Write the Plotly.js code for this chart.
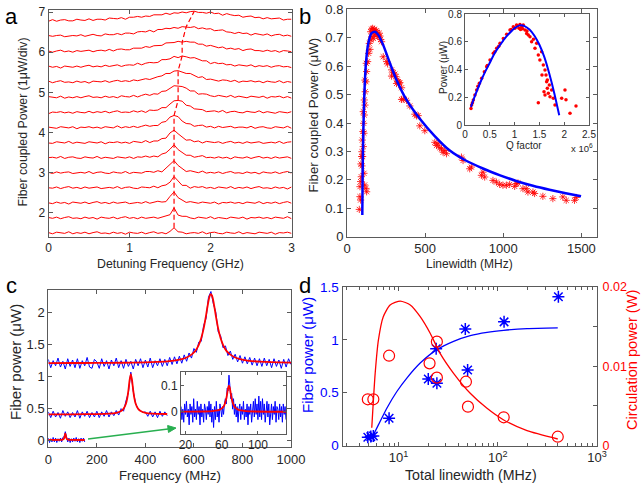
<!DOCTYPE html>
<html><head><meta charset="utf-8">
<script src="https://cdn.plot.ly/plotly-3.0.1.min.js"></script>
<style>html,body{margin:0;padding:0;background:#fff}#chart{width:642px;height:484px}</style>
</head><body><div id="chart"></div>
<script>
// ================= Panel a : spectra (power above each trace's own baseline) =================
const detuningGHz = [0,0.05,0.1,0.15,0.2,0.25,0.3,0.35,0.4,0.45,0.5,0.55,0.6,0.65,0.7,0.75,0.8,0.85,0.9,0.95,1,1.05,1.1,1.15,1.2,1.25,1.3,1.35,1.4,1.45,1.5,1.55,1.6,1.65,1.7,1.75,1.8,1.85,1.9,1.95,2,2.05,2.1,2.15,2.2,2.25,2.3,2.35,2.4,2.45,2.5,2.55,2.6,2.65,2.7,2.75,2.8,2.85,2.9,2.95,3];
const specA0 = [.01,-.02,.02,0,-.01,.03,-.02,.01,-.01,.02, -.02,.01,.03,-.01,0,-.02,.02,-.01,.01,-.03, .02,0,-.01,.02,-.02,.01,.03,-.01,.01,-.02, .04,.13,.03,.02,-.02,0,.01,-.01,.03,-.02, .01,.02,-.01,-.02,.02,0,-.01,.03,-.02,.01, 0,-.02,.02,.01,-.01,.02,-.03,.01,0,.02,-.01];
const specA1 = [.01,-.01,.02,-.02,.01,.03,-.01,0,-.02,.02, -.01,.01,-.03,.02,0,-.01,.02,-.02,.01,.03, -.01,.01,-.02,.02,-.01,.01,.02,-.01,.02,.04, .08,.25,.07,.04,.04,0,-.02,.02,0,-.01, .03,-.02,.01,0,-.02,.02,.01,-.01,.02,-.03, .01,0,.02,-.01,.01,-.02,.02,0,-.01,.03,-.02];
const specA2 = [0,-.02,.02,-.01,.01,-.03,.02,0,-.01,.02, -.02,.01,.03,-.01,.01,-.02,.02,-.01,.01,.02, -.02,0,.01,-.01,.03,-.01,.02,.04,.02,.03, .16,.27,.13,.08,.01,.03,.01,-.01,.02,.01, -.01,.02,-.03,.01,0,.02,-.01,.01,-.02,.02, 0,-.01,.03,-.02,.01,-.01,.02,-.02,.01,.03,-.01];
const specA3 = [0,-.01,.02,-.02,.01,.03,-.01,.01,-.02,.02, -.01,.01,.02,-.02,0,.01,-.01,.03,-.02,.01, .02,-.01,-.02,.02,.01,0,.04,0,.05,.07, .14,.28,.17,.06,.06,-.01,.03,.01,.03,-.01, .01,-.02,.02,0,-.01,.03,-.02,.01,-.01,.02, -.02,.01,.03,-.01,0,-.02,.02,-.01,.01,-.03,.02];
const specA4 = [.01,-.02,.02,-.01,.01,.02,-.02,0,.01,-.01, .03,-.02,.01,.02,-.01,-.02,.02,0,-.01,.03, -.02,.01,0,-.01,.03,.03,.01,.05,.02,.11, .19,.3,.18,.11,.03,.05,.02,0,.04,-.01, .01,-.01,.02,-.02,.01,.03,-.01,0,-.02,.02, -.01,.01,-.03,.02,0,-.01,.02,-.02,.01,.03,-.01];
const specA5 = [0,.01,-.01,.03,-.02,.01,.02,-.01,-.02,.02, 0,-.01,.03,-.02,.01,0,-.02,.02,.01,-.01, .02,-.02,.02,.01,.04,.01,.04,.02,.09,.12, .21,.32,.2,.13,.06,.06,.01,.03,.05,0, .01,-.01,.02,-.01,.01,-.03,.02,0,-.01,.02, -.02,.01,.03,-.01,.01,-.02,.02,-.01,.01,.02,-.02];
const specA6 = [-.01,-.02,.02,0,-.01,.03,-.02,.01,0,-.02, .02,.01,-.01,.02,-.03,.01,0,.02,-.01,.01, -.02,.03,.01,0,.05,0,.04,.04,.1,.11, .24,.31,.22,.13,.06,.07,.02,.04,-.01,.03, .01,0,.02,-.02,.01,.03,-.01,.01,-.02,.02, -.01,.01,.02,-.02,0,.01,-.01,.03,-.02,.01,.02];
const specA7 = [.01,0,-.02,.02,.01,-.01,.02,-.03,.01,0, .02,-.01,.01,-.02,.02,.01,-.01,.04,-.01,.02, 0,.03,0,.03,.06,.03,.05,.05,.13,.15, .26,.3,.27,.16,.1,.09,.03,.05,.06,.01, .03,-.01,.03,0,.02,.03,-.01,.01,.01,-.01, .03,-.02,.01,.02,-.01,-.02,.02,0,-.01,.03,-.02];
const specA8 = [-.03,.01,0,.02,-.01,.01,-.02,.02,0,-.01, .03,-.01,.02,0,.03,-.01,.02,.04,0,.01, 0,.04,.01,.04,0,.06,.05,.06,.12,.12, .21,.29,.3,.28,.18,.16,.09,.08,.07,.02, .03,.04,.01,.05,-.01,.02,.03,0,-.01,.03, .01,0,.04,-.01,.02,0,-.02,.02,.01,-.01,.02];
const specA9 = [.02,0,-.01,.03,-.02,.01,-.01,.02,-.01,.02, .04,0,.01,-.01,.03,0,.02,-.01,.04,.02, .01,.05,.01,.05,.08,.05,.09,.08,.15,.16, .23,.29,.28,.27,.23,.16,.16,.08,.09,.08, .04,.02,.05,.03,.01,.05,0,.03,.01,-.01, .03,.02,0,.03,-.02,.02,.01,.03,-.01,.02,-.02];
const specA10 = [.03,-.01,.02,.04,0,.01,-.01,.03,0,.02, -.02,.03,.02,.01,.04,0,.03,.05,.02,.04, .02,.06,.04,.07,.09,.07,.11,.14,.16,.22, .22,.28,.29,.26,.22,.22,.17,.12,.14,.07, .08,.06,.03,.06,.05,.02,.05,0,.03,.02, .04,.01,.03,-.01,.03,.01,0,.04,-.01,.02,0];
const specA11 = [.03,0,.02,-.02,.03,.01,0,.03,0,.03, .05,.01,.03,.01,.05,.02,.04,.06,.02,.05, .06,.05,.1,.06,.1,.12,.11,.12,.19,.19, .21,.27,.24,.28,.26,.23,.24,.2,.16,.16, .09,.12,.09,.1,.06,.07,.03,.06,.04,.03, .06,.01,.04,.02,.04,0,.03,.04,.01,.02,-.01];
const specA12 = [.03,0,.03,.05,.01,.03,0,.04,.02,.04, .05,.01,.04,.05,.03,.07,.03,.07,.08,.06, .06,.1,.1,.1,.14,.12,.16,.17,.17,.23, .24,.24,.27,.25,.27,.25,.25,.2,.2,.15, .17,.14,.11,.13,.08,.1,.07,.09,.04,.07, .08,.04,.04,.02,.05,.02,.04,0,.04,.03,.01];
const specA13 = [.04,.02,.04,.05,.01,.03,.04,.03,.06,.02, .05,.07,.04,.03,.08,.06,.06,.09,.06,.1, .1,.08,.13,.14,.13,.17,.13,.19,.19,.22, .21,.24,.22,.26,.25,.24,.26,.21,.23,.2, .21,.16,.17,.18,.13,.12,.09,.12,.09,.1, .05,.09,.07,.05,.08,.03,.06,.07,.03,.05,.02];
const specA14 = [.02,.06,.02,.05,.06,.03,.03,.07,.05,.04, .08,.04,.07,.07,.05,.1,.09,.08,.11,.07, .12,.12,.14,.12,.15,.14,.18,.18,.18,.22, .19,.23,.22,.25,.23,.26,.27,.24,.24,.22, .25,.21,.22,.17,.21,.18,.16,.17,.12,.14, .15,.11,.12,.08,.11,.08,.09,.1,.05,.07,.07];
const peakGHz   = [1.55,1.55,1.55,1.55,1.55,1.55,1.55,1.55,1.6,1.6,1.6,1.65,1.65,1.7,1.8];
const peakPower = [.13,.25,.27,.28,.3,.32,.31,.3,.3,.28,.29,.28,.25,.26,.27];
const A_BASE = 1.5, A_STEP = 0.375;   // vertical stacking of the spectra (display offset)

// ================= Panel b =================
const linewidthMHz = [78.7,82.9,87.1,87.1,82.9,91.4,95.7,89.3,100,93.5,95.7,104.2,97.8,108.5,102.1,106.4,110.6,104.2,114.9,110.6,117,121.3,114.9,125.6,123.4,132,138.4,146.9,142.6,121.3,125.6,108.5,112.8,
 151.1,157.5,163.9,168.2,174.6,181,185.2,189.4,193.7,200,206.4,210.7,214.9,159.6,168.2,176.7,153.2,221.3,
 232,253.4,259.8,285.4,296,306.5,313,321.5,328,334.2,338.4,349.2,349,359.6,381,285,317,402,434.2,445,455.5,466,498,562,572.6,583,594,604.7,615,625.8,636.6,732.4,742.7,785.4,796,860,870.4,881.2,934,956,977,998,1020,1041,1073,1084,1094,1126,1147.5,1158,1190,1200.5,1253.5,1317.5,1381.3,1403,1456,1467];
const coupledPower = [.096,.141,.129,.194,.176,.211,.249,.256,.282,.282,.299,.317,.34,.364,.37,.399,.428,.44,.463,.481,.51,.545,.551,.581,.61,.616,.645,.659,.68,.17,.158,.223,.182,
 .721,.73,.733,.727,.73,.721,.716,.725,.71,.704,.716,.706,.694,.704,.698,.71,.692,.686,
 .633,.616,.608,.587,.577,.572,.563,.551,.545,.54,.542,.524,.483,.484,.48,.565,.539,.46,.431,.425,.426,.39,.373,.332,.321,.327,.313,.309,.297,.303,.292,.28,.268,.239,.245,.216,.227,.21,.198,.192,.184,.181,.181,.184,.177,.187,.189,.169,.169,.157,.157,.152,.142,.134,.14,.128,.128,.138];
const fitLinewidth = [98,100,104,111,121,136,157,179,200,232,275,317,381,466,560,658,760,870,980,1083,1190,1296,1400,1498];
const fitPower     = [.076,.22,.36,.5,.61,.68,.716,.721,.71,.674,.61,.551,.481,.415,.355,.303,.268,.24,.216,.196,.179,.165,.153,.142];
// inset: power vs Q factor (x 10^6)
const qFactor = [.121,.134,.15,.168,.2,.235,.26,.289,.336,.39,.437,.45,.504,.571,.6,.638,.68,.706,.773,.84,.907,.93,.974,1.007,1.04,1.06,1.09,1.108,1.12,1.14,1.16,1.175,1.21,1.243,1.25,1.276,1.31,1.343,1.38,1.411,1.445,1.478,1.51,1.545,1.552,1.579,1.593,1.613,1.633,1.646,1.66,1.66,1.68,1.613,1.7,1.714,1.747,1.78,1.815,1.478,1.949,2.016,2.036,2.117,2.238];
const qPower  = [.12,.145,.16,.18,.217,.253,.28,.301,.337,.385,.421,.43,.47,.518,.53,.554,.57,.59,.626,.655,.686,.69,.71,.699,.722,.715,.7,.727,.69,.706,.695,.722,.686,.662,.68,.65,.637,.602,.62,.554,.59,.506,.47,.53,.361,.433,.241,.397,.361,.313,.265,.325,.229,.217,.289,.205,.253,.193,.145,.161,.193,.253,.183,.085,.137];
const qFitQ = [0.12,0.2,0.3,0.4,0.5,0.6,0.7,0.8,0.9,1.0,1.1,1.2,1.3,1.4,1.5,1.6,1.7,1.8,1.9];
const qFitP = [.13,.21,.3,.38,.45,.52,.575,.625,.665,.7,.72,.715,.69,.645,.58,.49,.37,.23,.07];

// ================= Panel c =================
const freqTop = [0,10,20,30,40,50,60,70,80,90,100,110,120,130,140,150,160,170,180,190,200,210,220,230,240,250,260,270,280,290,300,310,320,330,340,350,360,370,380,390,400,410,420,430,440,450,460,470,480,490,500,510,520,530,540,550,560,570,580,590,600,610,620,630,640,650,660,670,680,690,700,710,720,730,740,750,760,770,780,790,800,810,820,830,840,850,860,870,880,890,900,910,920,930,940,950,960,970,980,990,1000];
const powTop = [1.26,1.13,1.24,1.16,1.28,1.14,1.23,1.11,1.27,1.15, 1.25,1.13,1.27,1.12,1.24,1.16,1.29,1.14,1.12,1.26, 1.22,1.12,1.27,1.15,1.24,1.11,1.25,1.16,1.28,1.13, 1.24,1.12,1.26,1.15,1.23,1.11,1.26,1.16,1.27,1.13, 1.25,1.14,1.28,1.13,1.24,1.16,1.27,1.15,1.26,1.16, 1.29,1.18,1.3,1.19,1.31,1.2,1.33,1.23,1.36,1.28, 1.43,1.37,1.53,1.54,1.79,1.9,2.23,2.32,2.13,2.0, 1.69,1.63,1.44,1.47,1.32,1.39,1.26,1.34,1.22,1.32, 1.2,1.3,1.19,1.29,1.17,1.28,1.16,1.27,1.15,1.28, 1.16,1.26,1.13,1.27,1.15,1.25,1.12,1.26,1.14,1.27, 1.18];
const fitTopF = [0,100,200,300,400,450,500,530,550,570,590,600,610,620,630,640,650,655,660,665,670,675,680,685,690,700,710,720,730,740,750,770,790,820,870,950,1000];
const fitTopP = [1.202,1.203,1.204,1.207,1.213,1.22,1.233,1.247,1.264,1.289,1.334,1.368,1.416,1.486,1.589,1.74,1.948,2.064,2.172,2.251,2.28,2.251,2.172,2.064,1.948,1.74,1.589,1.486,1.416,1.368,1.334,1.289,1.264,1.242,1.224,1.214,1.21];
const freqMid = [0,10,20,30,40,50,60,70,80,90,100,110,120,130,140,150,160,170,180,190,200,210,220,230,240,250,260,270,280,290,300,310,320,330,340,350,360,370,380,390,400,410,420,430,440,450,460,470,480,490];
const powMid = [.44,.35,.45,.36,.43,.34,.46,.37,.44,.35, .43,.36,.46,.34,.44,.37,.45,.35,.43,.36, .45,.35,.44,.37,.46,.36,.44,.38,.46,.39, .49,.45,.61,.74,1.06,.76,.57,.48,.46,.43, .44,.37,.45,.36,.44,.35,.45,.37,.44,.38];
const fitMidF = [0,100,200,250,280,300,310,320,325,330,335,340,345,350,355,360,370,380,400,430,490];
const fitMidP = [.401,.402,.405,.411,.424,.452,.487,.567,.646,.772,.937,1.03,.937,.772,.646,.567,.487,.452,.424,.411,.406];
const freqLow = [0,5,10,15,20,25,30,35,40,45,50,55,60,65,70,75,80,85,90,95,100,105,110,115,120,125,130,135,140,145,150];
const powLow = [.03,-.04,.02,-.03,.04,-.03,.03,-.04,.02,-.02,.03,-.03,.04,.05,.13,.02,-.03,.03,-.04,.02,-.03,.03,-.02,.04,-.03,.02,-.04,.03,-.02,.03,-.03];
const fitLowF = [0,50,55,60,63,65,67,68,69,70,71,72,73,75,77,80,85,90,150];
const fitLowP = [.0002,.0022,.0038,.0083,.0155,.0265,.05,.069,.09,.1,.09,.069,.05,.0265,.0155,.0083,.0038,.0022,.0001];
// inset of the lowest trace
const freqZoom = [15,16,17,18,19,20,21,22,23,24,25,26,27,28,29,30,31,32,33,34,35,36,37,38,39,40,41,42,43,44,45,46,47,48,49,50,51,52,53,54,55,56,57,58,59,60,61,62,63,64,65,66,67,68,69,70,71,72,73,74,75,76,77,78,79,80,81,82,83,84,85,86,87,88,89,90,91,92,93,94,95,96,97,98,99,100,101,102,103,104,105,106,107,108,109,110,111,112,113,114,115,116,117,118,119,120,121,122,123,124,125,126,127,128,129,130,131];
const powZoom = [.02,-.03,.01,-.04,.03,-.01,.04,-.02,.01,-.05, .03,-.01,.02,-.04,.05,-.02,.01,-.03,.04,-.01, .02,-.05,.03,-.02,.01,-.04,.03,.01,-.03,.02, -.01,.04,-.02,.03,-.04,.01,-.06,.02,-.03,.04, -.02,.01,-.04,.03,.01,-.02,.02,-.01,.03,.05, .03,.09,.08,.14,.1,.05,.07,.01,.05,-.01, .03,-.02,.02,-.04,.01,.03,-.03,.02,-.01,.04, -.03,.01,-.02,.03,-.05,.02,-.01,.03,-.04,.01, .04,-.02,.05,-.01,.03,-.03,.06,-.02,.04,-.03, .05,-.01,.03,-.04,.02,.04,-.02,.03,-.05,.01, .03,-.03,.02,-.01,.04,-.04,.02,.01,-.03,.03, -.02,.02,-.04,.03,-.01,.02,-.03];
const fitZoomF = [15,40,50,55,58,61,63,65,66,67,68,69,70,71,73,75,78,81,86,96,131];
const fitZoomP = [.0003,.0011,.0027,.0051,.0083,.0155,.0265,.05,.069,.09,.1,.09,.069,.05,.0265,.0155,.0083,.0051,.0027,.0011,.0002];

// ================= Panel d =================
const starLw  = [4.89,5.24,5.56,8.01,19.9,23.9,24.3,47,49.6,115.6,408];
const starPow = [0.078,0.084,0.09,0.258,0.629,0.916,0.59,1.103,0.714,1.17,1.407];
const circLw  = [4.89,5.56,8.01,20.5,24.3,24.3,47.7,50,114.6,402];
const circPow = [0.00583,0.00583,0.01133,0.01037,0.0131,0.00856,0.00805,0.0049,0.00356,0.00111];
const fitBlueLw  = [5.56,6.25,7.6,9.6,12.1,16.5,24.3,35.8,52.7,77.8,114.6,197,402];
const fitBluePow = [0.1,0.195,0.353,0.511,0.638,0.78,0.907,0.986,1.04,1.071,1.09,1.106,1.113];
const fitRedLw  = [5.36,5.8,6.25,7.0,8.2,10.4,13.1,16.5,20.8,26.2,35.8,52.7,77.8,114.6,197,402];
const fitRedPow = [0.00225,0.0091,0.0133,0.01625,0.01773,0.01823,0.01773,0.01625,0.01416,0.01163,0.00911,0.00659,0.00469,0.00322,0.00187,0.00082];
const logMinorTicks = [3,4,5,6,7,8,9,20,30,40,50,60,70,80,90,200,300,400,500,600,700,800,900];

// ================= drawing =================
const FONT = '"Liberation Sans", Arial, Helvetica, sans-serif';
const AXC = '#5a5a5a';
const RED = 'rgb(255,0,0)', BLUE = 'rgb(0,0,255)';
const W = 642, H = 484;
const dx = (a, b) => [a / W, b / W];
const dy = (top, bottom) => [1 - bottom / H, 1 - top / H];
function axis(extra) {
  return Object.assign({
    showline: true, linecolor: AXC, linewidth: 1, mirror: 'ticks',
    ticks: 'inside', ticklen: 4, tickcolor: AXC, tickwidth: 1,
    showgrid: false, zeroline: false, fixedrange: true,
    tickfont: {family: FONT, size: 12, color: '#262626'}
  }, extra);
}

const data = [];
[specA0,specA1,specA2,specA3,specA4,specA5,specA6,specA7,specA8,specA9,specA10,specA11,specA12,specA13,specA14].forEach((vals, k) => {
  data.push({x: detuningGHz, y: vals.map(v => v + A_BASE + k * A_STEP), xaxis: 'x', yaxis: 'y',
    type: 'scatter', mode: 'lines', line: {color: RED, width: 1}, hoverinfo: 'skip'});
});
data.push({x: peakGHz, y: peakPower.map((v, k) => v + A_BASE + k * A_STEP), xaxis: 'x', yaxis: 'y',
  type: 'scatter', mode: 'lines', line: {color: RED, width: 1.2, dash: '5px,3px'}});

// b
data.push({x: linewidthMHz, y: coupledPower, xaxis: 'x2', yaxis: 'y2', type: 'scatter', mode: 'markers',
  marker: {symbol: 'asterisk-open', size: 6, color: RED, line: {color: RED, width: 0.8}}});
data.push({x: fitLinewidth, y: fitPower, xaxis: 'x2', yaxis: 'y2', type: 'scatter', mode: 'lines',
  line: {color: BLUE, width: 2.5, shape: 'spline', smoothing: 0.6}});
data.push({x: qFactor, y: qPower, xaxis: 'x3', yaxis: 'y3', type: 'scatter', mode: 'markers',
  marker: {symbol: 'circle', size: 3.5, color: RED}});
data.push({x: qFitQ, y: qFitP, xaxis: 'x3', yaxis: 'y3', type: 'scatter', mode: 'lines',
  line: {color: BLUE, width: 2, shape: 'spline', smoothing: 0.6}});

// c
[[freqTop, powTop], [freqMid, powMid], [freqLow, powLow]].forEach(([f, p]) => {
  data.push({x: f, y: p, xaxis: 'x4', yaxis: 'y4', type: 'scatter', mode: 'lines', line: {color: BLUE, width: 1}});
});
[[fitTopF, fitTopP], [fitMidF, fitMidP], [fitLowF, fitLowP]].forEach(([f, p]) => {
  data.push({x: f, y: p, xaxis: 'x4', yaxis: 'y4', type: 'scatter', mode: 'lines', line: {color: RED, width: 1.8, shape: 'spline', smoothing: 0.5}});
});
data.push({x: freqZoom, y: powZoom, xaxis: 'x5', yaxis: 'y5', type: 'scatter', mode: 'lines', line: {color: BLUE, width: 1}});
data.push({x: fitZoomF, y: fitZoomP, xaxis: 'x5', yaxis: 'y5', type: 'scatter', mode: 'lines', line: {color: RED, width: 1.8, shape: 'spline', smoothing: 0.5}});

// d
data.push({x: fitBlueLw, y: fitBluePow, xaxis: 'x6', yaxis: 'y6', type: 'scatter', mode: 'lines', line: {color: BLUE, width: 1.3, shape: 'spline', smoothing: 0.6}});
data.push({x: starLw, y: starPow, xaxis: 'x6', yaxis: 'y6', type: 'scatter', mode: 'markers',
  marker: {symbol: 'asterisk-open', size: 10, color: BLUE, line: {color: BLUE, width: 1.5}}});
data.push({x: fitRedLw, y: fitRedPow, xaxis: 'x6', yaxis: 'y7', type: 'scatter', mode: 'lines', line: {color: RED, width: 1.3, shape: 'spline', smoothing: 0.6}});
data.push({x: circLw, y: circPow, xaxis: 'x6', yaxis: 'y7', type: 'scatter', mode: 'markers',
  marker: {symbol: 'circle-open', size: 11, color: RED, line: {color: RED, width: 1.2}}});
// empty trace so the minor-tick overlay axis is drawn
data.push({x: [], y: [], xaxis: 'x7', yaxis: 'y6', type: 'scatter', mode: 'lines', hoverinfo: 'skip', showlegend: false});

function ann(text, px, py, size, extra) {
  return Object.assign({text: text, xref: 'paper', yref: 'paper', x: px / W, y: 1 - py / H,
    xanchor: 'center', yanchor: 'middle', showarrow: false,
    font: {family: FONT, size: size, color: '#262626'}}, extra || {});
}
const annotations = [
  ann('a', 11.5, 16, 22, {font: {family: FONT, size: 22, color: '#000'}}),
  ann('b', 305, 16.5, 22, {font: {family: FONT, size: 22, color: '#000'}}),
  ann('c', 11.5, 285.5, 22, {font: {family: FONT, size: 22, color: '#000'}}),
  ann('d', 304.5, 285.5, 22, {font: {family: FONT, size: 22, color: '#000'}}),
  ann('Fiber coupled Power (1μW/div)', 22.5, 122, 12.3, {textangle: -90}),
  ann('Detuning Frequency (GHz)', 171, 264, 12.3),
  ann('Fiber coupled Power (μW)', 312.5, 115, 13.3, {textangle: -90}),
  ann('Linewidth (MHz)', 469, 264, 12),
  ann('Power (μW)', 444, 68, 10, {textangle: -90}),
  ann('Q factor', 524, 145, 10),
  ann('x 10<sup>6</sup>', 582, 148, 9.5),
  ann('Fiber power (μW)', 15, 362, 15, {textangle: -90}),
  ann('Frequency (MHz)', 170, 475.5, 13.2),
  ann('Fiber power (μW)', 307, 355, 15, {textangle: -90, font: {family: FONT, size: 15, color: BLUE}}),
  ann('Circulation power (W)', 632, 360, 14.6, {textangle: -90, font: {family: FONT, size: 14.6, color: RED}}),
  ann('Total linewidth (MHz)', 471, 475, 14.2)
];

// green arrow (decoration) from the lowest trace to the inset
const px = (x) => x / W, py = (y) => 1 - y / H;
const tail = [88, 439], tip = [176, 428];
const len = Math.hypot(tip[0] - tail[0], tip[1] - tail[1]);
const ux = (tip[0] - tail[0]) / len, uy = (tip[1] - tail[1]) / len;
const hl = 8, hw = 3.5;
const base = [tip[0] - hl * ux, tip[1] - hl * uy];
const c1 = [base[0] - hw * uy, base[1] + hw * ux], c2 = [base[0] + hw * uy, base[1] - hw * ux];
const GREEN = 'rgb(40,175,80)';
const shapes = [
  {type: 'line', xref: 'paper', yref: 'paper', x0: px(tail[0]), y0: py(tail[1]), x1: px(base[0]), y1: py(base[1]),
   line: {color: GREEN, width: 1.5}},
  {type: 'path', xref: 'paper', yref: 'paper',
   path: `M ${px(tip[0])} ${py(tip[1])} L ${px(c1[0])} ${py(c1[1])} L ${px(c2[0])} ${py(c2[1])} Z`,
   fillcolor: GREEN, line: {color: GREEN, width: 1}}
];

const layout = {
  width: W, height: H, margin: {l: 0, r: 0, t: 0, b: 0},
  paper_bgcolor: '#fff', plot_bgcolor: '#fff', showlegend: false,
  font: {family: FONT, color: '#262626'},
  xaxis:  axis({domain: dx(48.5, 291.5), range: [0, 3], tickvals: [0, 1, 2, 3], anchor: 'y'}),
  yaxis:  axis({domain: dy(10, 237), range: [1.4, 7.05], tickvals: [2, 3, 4, 5, 6, 7], anchor: 'x'}),
  xaxis2: axis({domain: dx(347, 597), range: [0, 1600], tickvals: [0, 500, 1000, 1500], anchor: 'y2', tickfont: {family: FONT, size: 13, color: '#262626'}}),
  yaxis2: axis({domain: dy(9.3, 236.7), range: [0, 0.8], dtick: 0.1, tick0: 0, anchor: 'x2', tickfont: {family: FONT, size: 13, color: '#262626'}}),
  xaxis3: axis({domain: dx(465, 589), range: [0, 2.5], dtick: 0.5, tick0: 0, anchor: 'y3', ticklen: 3, tickfont: {family: FONT, size: 10, color: '#262626'}}),
  yaxis3: axis({domain: dy(14.3, 125), range: [0, 0.8], dtick: 0.2, tick0: 0, anchor: 'x3', ticklen: 3, tickfont: {family: FONT, size: 10, color: '#262626'}}),
  xaxis4: axis({domain: dx(48.3, 291), range: [0, 1000], dtick: 200, tick0: 0, anchor: 'y4', tickfont: {family: FONT, size: 13, color: '#262626'}}),
  yaxis4: axis({domain: dy(290, 447.3), range: [-0.114, 2.344], tickvals: [0, 0.5, 1, 1.5, 2], anchor: 'x4', tickfont: {family: FONT, size: 13, color: '#262626'}}),
  xaxis5: axis({domain: dx(181, 286), range: [15, 131], tickvals: [20, 60, 100], anchor: 'y5', ticklen: 3, tickfont: {family: FONT, size: 12, color: '#262626'}}),
  yaxis5: axis({domain: dy(372, 433.5), range: [-0.083, 0.152], tickvals: [0, 0.1], anchor: 'x5', ticklen: 3, tickfont: {family: FONT, size: 12, color: '#262626'}}),
  xaxis6: axis({type: 'log', domain: dx(342.5, 597), range: [0.434, 3], tickvals: [10, 100, 1000],
    ticktext: ['10<sup>1</sup>', '10<sup>2</sup>', '10<sup>3</sup>'], anchor: 'y6',
    tickfont: {family: FONT, size: 13, color: '#262626'}}),
  xaxis7: axis({type: 'log', overlaying: 'x6', anchor: 'y6', range: [0.434, 3], tickvals: logMinorTicks,
    showticklabels: false, ticklen: 3, showline: false, mirror: 'ticks'}),
  yaxis6: axis({domain: dy(287, 445.5), range: [0, 1.5], tickvals: [0, 0.5, 1, 1.5], ticktext: ['0', '0.5', '1', '1.5'],
    anchor: 'x6', mirror: false, tickfont: {family: FONT, size: 13.5, color: BLUE}}),
  yaxis7: axis({overlaying: 'y6', side: 'right', range: [0, 0.02], tickvals: [0, 0.01, 0.02],
    ticktext: ['0', '0.01', '0.02'], anchor: 'x6', mirror: false, ticklabelstandoff: 2, tickfont: {family: FONT, size: 12.5, color: RED},
    minor: {tickmode: 'array', tickvals: [0.005, 0.015], ticks: 'inside', ticklen: 4, tickcolor: AXC, showgrid: false}}),
  annotations: annotations,
  shapes: shapes
};
Plotly.newPlot('chart', data, layout, {staticPlot: true, displayModeBar: false});
</script>
</body></html>
